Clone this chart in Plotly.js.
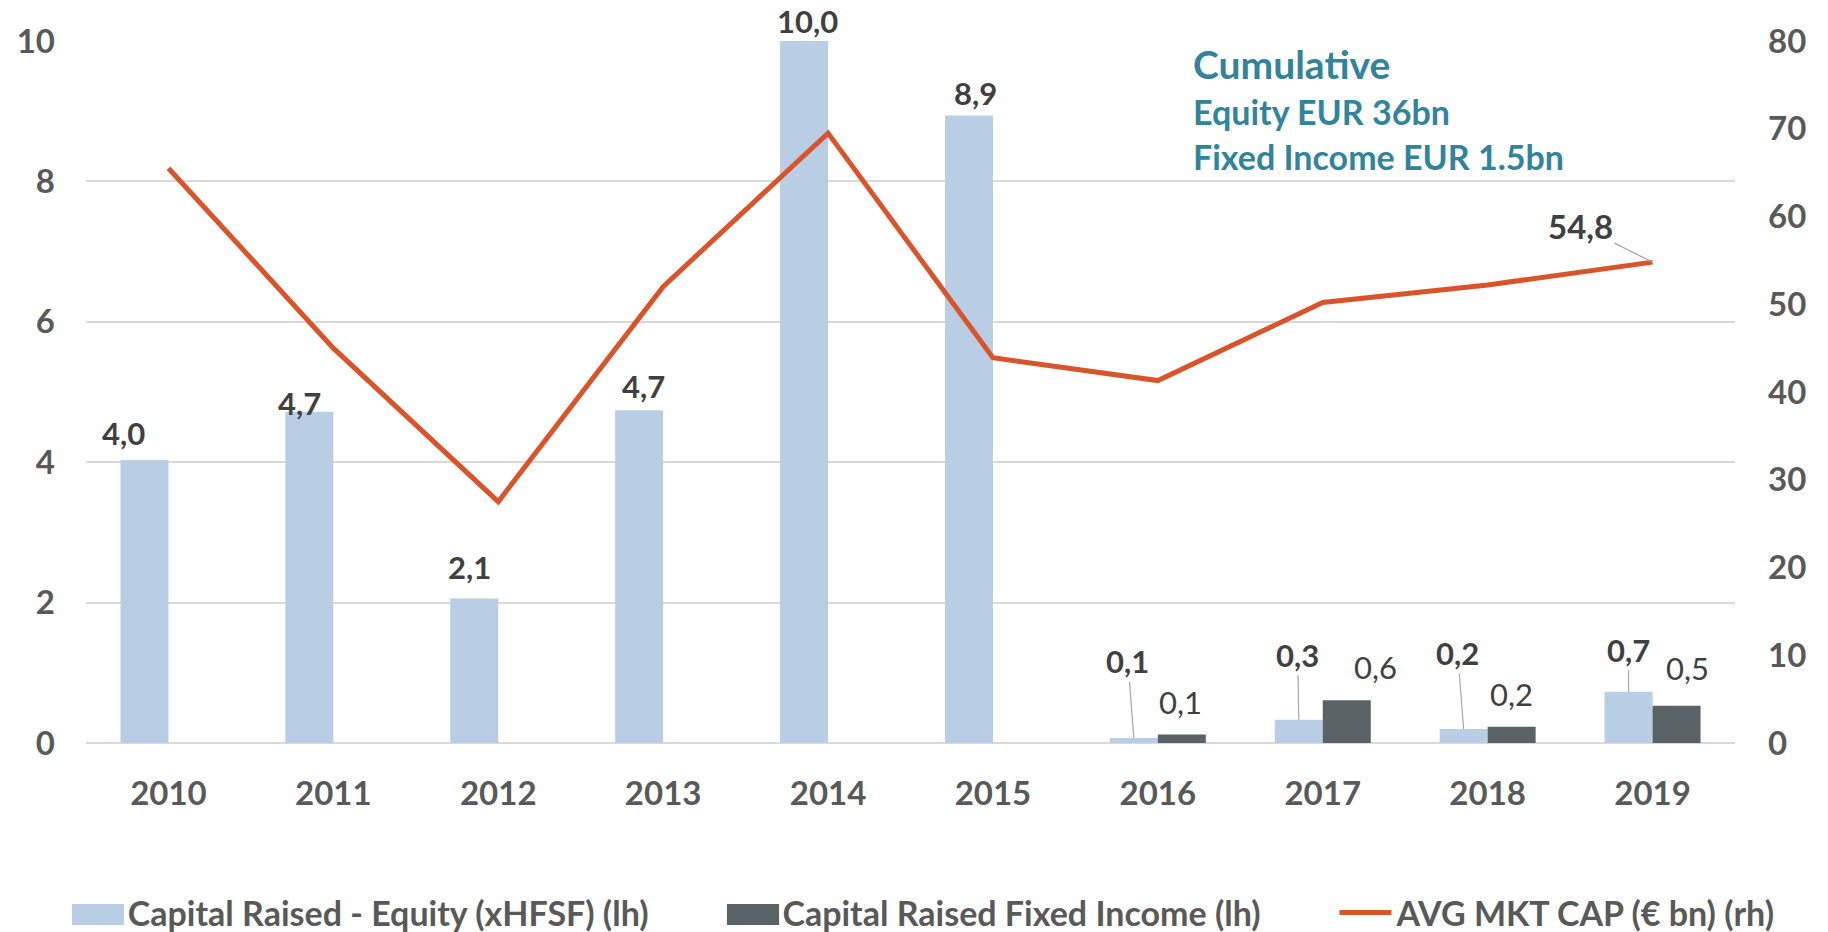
<!DOCTYPE html>
<html>
<head>
<meta charset="utf-8">
<script src="https://cdn.plot.ly/plotly-3.0.1.min.js"></script>
<style>html,body{margin:0;padding:0;background:#fff;}#chart{width:1828px;height:932px;}</style>
</head>
<body>
<div id="chart"></div>
<script>
// ---- data ----
const years = ['2010','2011','2012','2013','2014','2015','2016','2017','2018','2019'];
const equity = [4.03, 4.72, 2.06, 4.74, 10.0, 8.94, 0.07, 0.33, 0.20, 0.73];
const fixedIncome = [null, null, null, null, null, null, 0.12, 0.61, 0.23, 0.53];
const avgMktCap = [65.5, 45.0, 27.5, 52.0, 69.5, 43.9, 41.3, 50.2, 52.2, 54.8];
const seriesNames = ['Capital Raised - Equity (xHFSF) (lh)', 'Capital Raised Fixed Income (lh)', 'AVG MKT CAP (€ bn) (rh)'];
const cumulativeLines = ['Cumulative', 'Equity EUR 36bn', 'Fixed Income EUR 1.5bn'];

// ---- styling ----
const FONT = 'Lato, "Open Sans", sans-serif';
const tickColor = '#595959';
const labelColor = '#404040';
const eqColor = '#b9cde4';
const fiColor = '#596365';
const lineColor = '#d9542b';
const fmt = v => v.toFixed(1).replace('.', ',');

// label placement (pixel offsets relative to bar top / point)
const eqShift = [[-21,27],[-10,9],[-5,31],[4,24],[3,20],[7,22]];
const eqArrow = {6:[-6,-77], 7:[-1,-65], 8:[-6,-76], 9:[0,-42]};
const fiShift = {6:[-1,33], 7:[29,33], 8:[0,33], 9:[11,38]};
const barOff = 24;

const annotations = [];
equity.forEach((v, i) => {
  if (eqArrow[i]) {
    annotations.push({x: i, y: v, xref: 'x', yref: 'y', text: fmt(v),
      xshift: -barOff, showarrow: true, arrowhead: 0, arrowwidth: 1.2, arrowcolor: '#a6a6a6',
      ax: eqArrow[i][0], ay: eqArrow[i][1],
      font: {family: FONT, size: 31, color: labelColor, weight: 700}});
  } else {
    annotations.push({x: i, y: v, xref: 'x', yref: 'y', text: fmt(v),
      xshift: -barOff + eqShift[i][0], yshift: eqShift[i][1], showarrow: false, yanchor: 'middle',
      font: {family: FONT, size: 31, color: labelColor, weight: 700}});
  }
});
fixedIncome.forEach((v, i) => {
  if (v === null) return;
  annotations.push({x: i, y: v, xref: 'x', yref: 'y', text: fmt(v),
    xshift: barOff + fiShift[i][0], yshift: fiShift[i][1], showarrow: false, yanchor: 'middle',
    font: {family: FONT, size: 31, color: labelColor, weight: 400}});
});
const last = avgMktCap.length - 1;
annotations.push({x: last, y: avgMktCap[last], xref: 'x', yref: 'y2', text: fmt(avgMktCap[last]),
  showarrow: true, arrowhead: 0, arrowwidth: 1.2, arrowcolor: '#a6a6a6', ax: -72, ay: -36,
  font: {family: FONT, size: 33, color: labelColor, weight: 700}});

// cumulative box text
annotations.push({xref: 'paper', yref: 'paper', x: 0.67, y: 0.967, xanchor: 'left', yanchor: 'middle',
  text: cumulativeLines[0], showarrow: false, font: {family: FONT, size: 39, color: '#31849b', weight: 700}});
annotations.push({xref: 'paper', yref: 'paper', x: 0.67, y: 0.899, xanchor: 'left', yanchor: 'middle',
  text: cumulativeLines[1], showarrow: false, font: {family: FONT, size: 34, color: '#31849b', weight: 700}});
annotations.push({xref: 'paper', yref: 'paper', x: 0.67, y: 0.836, xanchor: 'left', yanchor: 'middle',
  text: cumulativeLines[2], showarrow: false, font: {family: FONT, size: 34, color: '#31849b', weight: 700}});

const traces = [
  {type: 'bar', name: seriesNames[0], x: years, y: equity, marker: {color: eqColor}, yaxis: 'y',
   legend: 'legend', hoverinfo: 'skip'},
  {type: 'bar', name: seriesNames[1], x: years, y: fixedIncome, marker: {color: fiColor}, yaxis: 'y',
   legend: 'legend2', hoverinfo: 'skip'},
  {type: 'scatter', mode: 'lines', name: seriesNames[2], x: years, y: avgMktCap, yaxis: 'y2',
   legend: 'legend3', line: {color: lineColor, width: 5}, hoverinfo: 'skip'}
];

const legFont = {family: FONT, size: 34, color: tickColor, weight: 700};
const legBase = {orientation: 'h', xanchor: 'left', y: -0.242, yanchor: 'middle', font: legFont,
  itemwidth: 40, bgcolor: 'rgba(0,0,0,0)'};

// wider legend swatches for the bar series (legend decoration, paper coords)
const swatch = (x0, x1, color) => ({type: 'rect', xref: 'paper', yref: 'paper', x0: x0, x1: x1,
  y0: -0.2593, y1: -0.2293, fillcolor: color, line: {width: 0}, layer: 'above'});

const layout = {
  width: 1828, height: 932,
  margin: {l: 86, r: 93, t: 41, b: 189, autoexpand: false},
  paper_bgcolor: '#ffffff', plot_bgcolor: '#ffffff',
  barmode: 'group', bargap: 0.418, bargroupgap: 0,
  showlegend: true,
  legend: Object.assign({}, legBase, {x: -0.005}),
  legend2: Object.assign({}, legBase, {x: 0.392}),
  legend3: Object.assign({}, legBase, {x: 0.7571, itemwidth: 52}),
  shapes: [swatch(-0.0085, 0.0230, eqColor), swatch(0.3887, 0.4203, fiColor)],
  xaxis: {type: 'category', range: [-0.5, 9.5], showgrid: false, zeroline: false, showline: false, ticks: '',
    tickfont: {family: FONT, size: 33, color: tickColor, weight: 700}, ticklabelstandoff: 28},
  yaxis: {range: [0, 10], dtick: 2, showgrid: true, gridcolor: '#d9d9d9', gridwidth: 2,
    zeroline: true, zerolinecolor: '#d9d9d9', zerolinewidth: 2, showline: false, ticks: '',
    tickfont: {family: FONT, size: 33, color: tickColor, weight: 700}, ticklabelstandoff: 30},
  yaxis2: {range: [0, 80], dtick: 10, overlaying: 'y', side: 'right', showgrid: false, zeroline: false,
    showline: false, ticks: '', tickfont: {family: FONT, size: 33, color: tickColor, weight: 700},
    ticklabelstandoff: 32},
  annotations: annotations
};

Plotly.newPlot('chart', traces, layout, {displayModeBar: false, staticPlot: true});
</script>
</body>
</html>
